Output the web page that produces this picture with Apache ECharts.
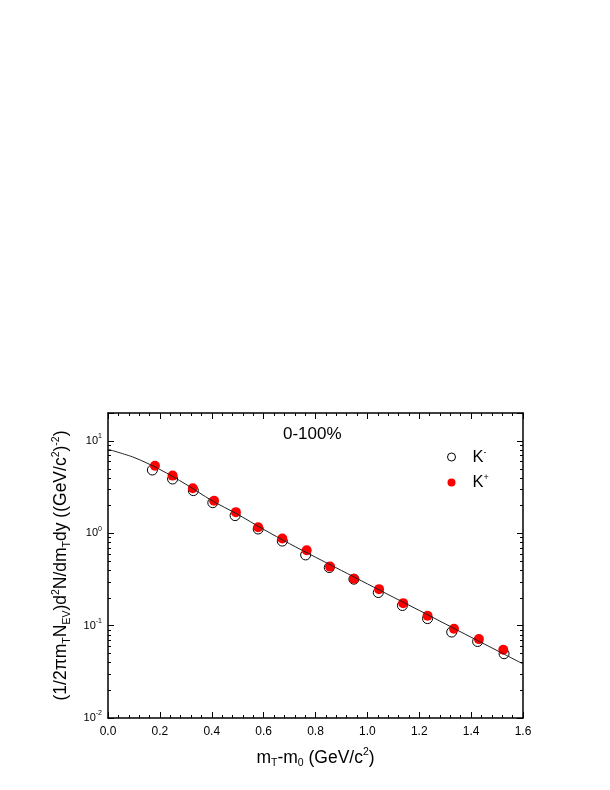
<!DOCTYPE html>
<html>
<head>
<meta charset="utf-8">
<script src="https://cdn.jsdelivr.net/npm/echarts@6/dist/echarts.min.js"></script>
<style>html,body{margin:0;padding:0;background:#fff;}#c{width:610px;height:790px;}</style>
</head>
<body>
<div id="c"></div>
<script>
// K- (open circles)
const kMinusX = [0.171, 0.249, 0.329, 0.404, 0.490, 0.579, 0.672, 0.762, 0.853, 0.948, 1.042, 1.135, 1.232, 1.325, 1.425, 1.527];
const kMinusY = [4.83, 3.86, 2.89, 2.14, 1.55, 1.11, 0.822, 0.582, 0.425, 0.318, 0.228, 0.165, 0.119, 0.0851, 0.0673, 0.0496];
// K+ (filled red circles)
const kPlusX = [0.181, 0.249, 0.327, 0.409, 0.493, 0.579, 0.672, 0.766, 0.856, 0.948, 1.045, 1.138, 1.232, 1.334, 1.430, 1.524];
const kPlusY = [5.38, 4.20, 3.06, 2.25, 1.69, 1.16, 0.875, 0.655, 0.435, 0.321, 0.248, 0.175, 0.128, 0.0923, 0.0714, 0.0548];
// fit curve
const fitX = [0.0, 0.1, 0.2, 0.3, 0.4, 0.5, 0.6, 0.7, 0.8, 0.9, 1.0, 1.1, 1.2, 1.3, 1.4, 1.5, 1.6];
const fitY = [8.09, 6.61, 4.90, 3.39, 2.26, 1.60, 1.10, 0.77, 0.55, 0.395, 0.283, 0.203, 0.146, 0.1045, 0.0748, 0.0537, 0.0385];
// y minor (log) tick values
const yMinorTicks = [0.02,0.03,0.04,0.05,0.06,0.07,0.08,0.09,0.2,0.3,0.4,0.5,0.6,0.7,0.8,0.9,2,3,4,5,6,7,8,9,20];
const xTickLabels = ['0.0','0.2','0.4','0.6','0.8','1.0','1.2','1.4','1.6'];

const FONT = 'Liberation Sans, Arial, sans-serif';
const chart = echarts.init(document.getElementById('c'), null, {renderer: 'canvas'});

const zip = (xs, ys) => xs.map((x, i) => [x, ys[i]]);

function yLabel(v) {
  const e = Math.log10(v);
  const r = Math.round(e);
  if (Math.abs(e - r) > 1e-6) return '';
  return '{b|10}{s|' + r + '}';
}

const xAxisBase = {
  type: 'value', min: 0, max: 1.6, interval: 0.2,
  axisLine: {show: true, onZero: false, lineStyle: {color: '#000', width: 1.5}},
  axisTick: {show: true, inside: true, length: 6, lineStyle: {color: '#000', width: 1}},
  minorTick: {show: true, splitNumber: 5, length: 3, lineStyle: {color: '#000', width: 1}},
  splitLine: {show: false}
};
const yAxisBase = {
  type: 'log', logBase: 10, min: 0.01, max: 20,
  axisLine: {show: true, onZero: false, lineStyle: {color: '#000', width: 1.5}},
  axisTick: {show: true, inside: true, length: 6, lineStyle: {color: '#000', width: 1}},
  splitLine: {show: false}
};

const titleRich = {
  b: {fontFamily: FONT, fontSize: 17.5, color: '#000', lineHeight: 22},
  sub: {fontFamily: FONT, fontSize: 10.5, color: '#000', verticalAlign: 'bottom', lineHeight: 22},
  sup: {fontFamily: FONT, fontSize: 10.5, color: '#000', verticalAlign: 'top', lineHeight: 22}
};

const option = {
  animation: false,
  backgroundColor: '#fff',
  grid: {left: 108, right: 87, top: 413, bottom: 72, containLabel: false},
  xAxis: [
    Object.assign({}, xAxisBase, {
      position: 'bottom',
      name: '{b|m}{sub|T}{b|-m}{sub|0}{b| (GeV/c}{sup|2}{b|)}',
      nameLocation: 'middle', nameGap: 29,
      nameTextStyle: {rich: titleRich},
      axisLabel: {show: true, margin: 8, fontFamily: FONT, fontSize: 12, color: '#000',
        formatter: v => { const s = v.toFixed(1); return xTickLabels.indexOf(s) >= 0 ? s : ''; }}
    }),
    Object.assign({}, xAxisBase, {position: 'top', axisLabel: {show: false}})
  ],
  yAxis: [
    Object.assign({}, yAxisBase, {
      position: 'left',
      name: '{b|(1/2\u03c0m}{sub|T}{b|N}{sub|EV}{b|)d}{sup|2}{b|N/dm}{sub|T}{b|dy ((GeV/c}{sup|2}{b|)}{sup|-2}{b|)}',
      nameLocation: 'middle', nameGap: 29, nameRotate: 90,
      nameTextStyle: {rich: titleRich},
      axisLabel: {show: true, margin: 6, formatter: yLabel,
        rich: {
          b: {fontFamily: FONT, fontSize: 11, color: '#000', lineHeight: 16},
          s: {fontFamily: FONT, fontSize: 7, color: '#000', verticalAlign: 'top', lineHeight: 16}
        }}
    }),
    Object.assign({}, yAxisBase, {position: 'right', axisLabel: {show: false}})
  ],
  legend: {
    show: true, orient: 'vertical', left: 442, top: 443,
    itemWidth: 8, itemHeight: 8, itemGap: 8,
    data: [
      {name: 'K-', itemStyle: {color: '#fff', borderColor: '#000', borderWidth: 1}},
      {name: 'K+', itemStyle: {color: '#ff0000', borderWidth: 0}}
    ],
    formatter: n => n === 'K-' ? '{b|K}{s|-}' : '{b|K}{s|+}',
    textStyle: {
      rich: {
        b: {fontFamily: FONT, fontSize: 16.5, color: '#000', padding: [0,0,0,12], lineHeight: 18},
        s: {fontFamily: FONT, fontSize: 9, color: '#000', verticalAlign: 'top', lineHeight: 18}
      }
    }
  },
  graphic: [
    {type: 'text', left: 283, top: 426, silent: true,
     style: {text: '0-100%', fontFamily: FONT, fontSize: 17, fill: '#000'}}
  ],
  series: [
    {
      name: 'K-', type: 'scatter', xAxisIndex: 0, yAxisIndex: 0,
      data: zip(kMinusX, kMinusY), symbol: 'circle', symbolSize: 10,
      itemStyle: {color: '#fff', borderColor: '#000', borderWidth: 1, opacity: 1}, z: 2
    },
    {
      name: 'K+', type: 'scatter', xAxisIndex: 0, yAxisIndex: 0,
      data: zip(kPlusX, kPlusY), symbol: 'circle', symbolSize: 10,
      itemStyle: {color: '#ff0000', borderWidth: 0, opacity: 1}, z: 3
    },
    {
      name: 'fit', type: 'line', xAxisIndex: 0, yAxisIndex: 0,
      data: zip(fitX, fitY), smooth: 0.3, showSymbol: false, symbol: 'none',
      lineStyle: {color: '#222', width: 1}, z: 4, silent: true
    },
    {
      name: 'yminor', type: 'custom', xAxisIndex: 0, yAxisIndex: 0, silent: true, clip: false,
      data: yMinorTicks.map(v => [0, v]),
      renderItem: function (params, api) {
        const p = api.coord([0, api.value(1)]);
        const cs = params.coordSys;
        const y = Math.round(p[1]) + 0.5;
        return {
          type: 'group',
          children: [
            {type: 'line', shape: {x1: cs.x, y1: y, x2: cs.x + 3, y2: y}, style: {stroke: '#000', lineWidth: 1}},
            {type: 'line', shape: {x1: cs.x + cs.width - 3, y1: y, x2: cs.x + cs.width, y2: y}, style: {stroke: '#000', lineWidth: 1}}
          ]
        };
      },
      z: 5
    }
  ]
};
chart.setOption(option);
</script>
</body>
</html>
